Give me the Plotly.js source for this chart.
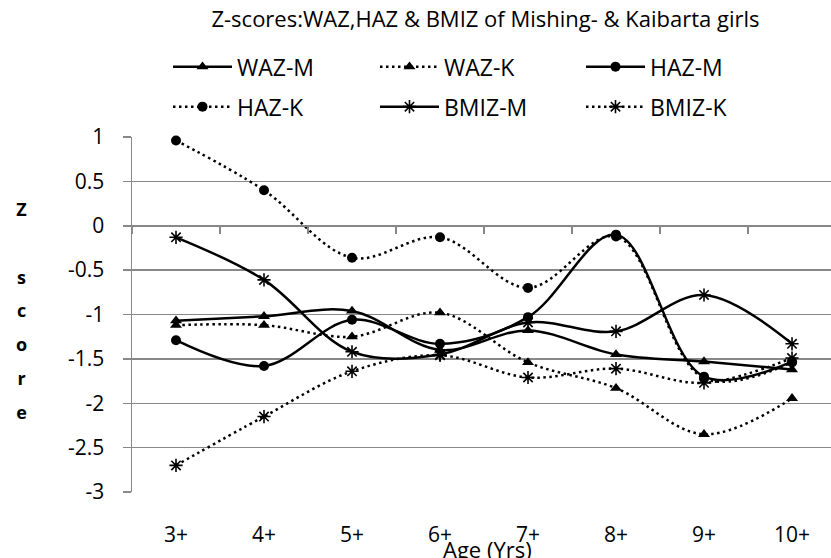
<!DOCTYPE html>
<html><head><meta charset="utf-8">
<script src="https://cdn.plot.ly/plotly-3.0.1.min.js"></script>
<style>html,body{margin:0;padding:0;background:#fff;}#chart{width:831px;height:558px;}</style>
</head><body><div id="chart"></div>
<script>
const ageGroups = ['3+','4+','5+','6+','7+','8+','9+','10+'];
const wazM  = [-1.07, -1.02, -0.96, -1.40, -1.18, -1.45, -1.53, -1.62];
const wazK  = [-1.12, -1.12, -1.25, -0.98, -1.54, -1.83, -2.35, -1.945];
const hazM  = [-1.29, -1.58, -1.06, -1.33, -1.03, -0.10, -1.70, -1.53];
const hazK  = [0.96, 0.40, -0.36, -0.13, -0.70, -0.12, -1.72, -1.54];
const bmizM = [-0.13, -0.61, -1.42, -1.45, -1.09, -1.19, -0.78, -1.33];
const bmizK = [-2.70, -2.15, -1.64, -1.46, -1.71, -1.61, -1.77, -1.49];
const seriesNames = ['WAZ-M','WAZ-K','HAZ-M','HAZ-K','BMIZ-M','BMIZ-K'];
const yTickVals = [1, 0.5, 0, -0.5, -1, -1.5, -2, -2.5, -3];
const yTickLabels = ['1','0.5','0','-0.5','-1','-1.5','-2','-2.5','-3'];
const chartTitle = 'Z-scores:WAZ,HAZ & BMIZ of Mishing- & Kaibarta girls';
const xTitle = 'Age (Yrs)';
const yTitleLetters = ['Z','','s','c','o','r','e'];

const W = 831, H = 558;
const GRID = '#888888';
const DOT = '2.5px,3.5px';

function series(name, y, dotted, symbol, legendId) {
  const isStar = symbol === 'asterisk-open';
  return {
    type: 'scatter', mode: 'lines+markers', name: name, x: ageGroups, y: y,
    legend: legendId,
    line: {color: '#000', width: 2.5, shape: 'spline', smoothing: 1, dash: dotted ? DOT : 'solid'},
    marker: {symbol: symbol, color: '#000', size: isStar ? 11 : (symbol === 'circle' ? 10 : 10.5),
             line: {color: '#000', width: isStar ? 1.6 : 0}},
    cliponaxis: false
  };
}

const data = [
  // carrier for the category axis that crosses at y = 0 (draws nothing)
  {type: 'scatter', mode: 'none', x: ageGroups, y: wazM, xaxis: 'x2', yaxis: 'y',
   showlegend: false, hoverinfo: 'skip'},
  series(seriesNames[0], wazM, false, 'triangle-up', 'legend'),
  series(seriesNames[1], wazK, true, 'triangle-up', 'legend2'),
  series(seriesNames[2], hazM, false, 'circle', 'legend3'),
  series(seriesNames[3], hazK, true, 'circle', 'legend4'),
  series(seriesNames[4], bmizM, false, 'asterisk-open', 'legend5'),
  series(seriesNames[5], bmizK, true, 'asterisk-open', 'legend6')
];

function leg(px, py) {
  return {xref: 'container', yref: 'container', x: px / W, y: 1 - py / H,
          xanchor: 'left', yanchor: 'middle', orientation: 'h',
          bgcolor: 'rgba(0,0,0,0)', borderwidth: 0, itemwidth: 59,
          font: {family: 'Open Sans', size: 23, color: '#000'}};
}
const colX = [168, 375, 581];
const rowY = [66.7, 106.7];

const layout = {
  width: W, height: H,
  margin: {l: 132, r: 0, t: 137, b: 66, pad: 0},
  paper_bgcolor: '#fff', plot_bgcolor: '#fff',
  font: {family: 'Open Sans', size: 21, color: '#000'},
  title: {text: chartTitle, font: {family: 'Open Sans', size: 22, color: '#000'},
          xref: 'container', x: 485.5 / W, xanchor: 'center',
          yref: 'container', y: 1 - 19 / H, yanchor: 'middle'},
  showlegend: true,
  legend: leg(colX[0], rowY[0]),
  legend2: leg(colX[1], rowY[0]),
  legend3: leg(colX[2], rowY[0]),
  legend4: leg(colX[0], rowY[1]),
  legend5: leg(colX[1], rowY[1]),
  legend6: leg(colX[2], rowY[1]),
  xaxis: {type: 'category', range: [-0.5, 7.443], showgrid: false, zeroline: false, showline: false,
          ticks: '', tickfont: {size: 21, color: '#000'}, ticklabelstandoff: 28, fixedrange: true},
  xaxis2: {type: 'category', overlaying: 'x', anchor: 'free', position: 0.75, side: 'bottom',
           range: [-0.5, 7.443], tickson: 'boundaries', ticks: 'outside', ticklen: 7, tickwidth: 1.5,
           tickcolor: GRID, showline: true, linecolor: GRID, linewidth: 1.5, showticklabels: false,
           showgrid: false, zeroline: false, fixedrange: true},
  yaxis: {range: [-3, 1], tickmode: 'array', tickvals: yTickVals, ticktext: yTickLabels,
          showgrid: true, gridcolor: GRID, gridwidth: 1.5, zeroline: false, showline: true,
          linecolor: GRID, linewidth: 1.5, ticks: 'outside', ticklen: 8, tickwidth: 1.5, tickcolor: GRID,
          ticklabelstandoff: 14, tickfont: {size: 21, color: '#000'}, fixedrange: true},
  annotations: [
    {text: xTitle, xref: 'paper', yref: 'paper', x: (487 - 132) / 699, y: (492 - 549) / 355,
     xanchor: 'center', yanchor: 'middle', showarrow: false, font: {size: 22, color: '#000'}},
    {text: yTitleLetters.map(c => c ? '<b><span style="font-size:18px">' + c + '</span></b>' : '').join('<br>'),
     xref: 'paper', yref: 'paper', x: (21 - 132) / 699, y: (492 - 310.5) / 355,
     xanchor: 'center', yanchor: 'middle', showarrow: false, align: 'center',
     font: {size: 26, color: '#000'}}
  ]
};

Plotly.newPlot('chart', data, layout, {displayModeBar: false, staticPlot: true});
</script>
</body></html>
